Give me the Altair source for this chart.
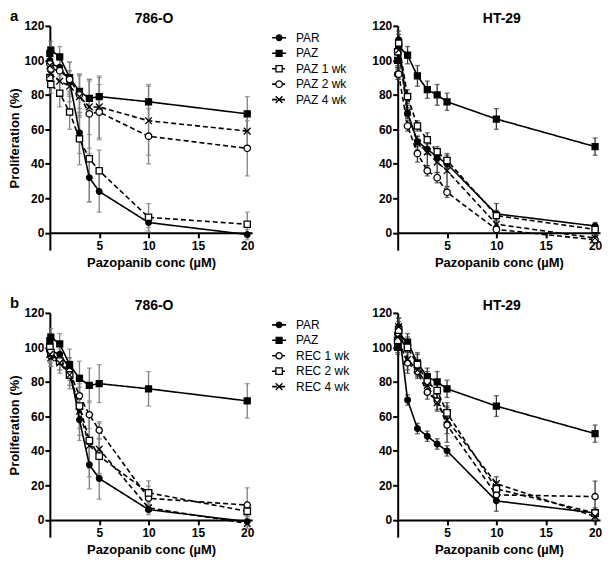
import altair as alt
import pandas as pd

# ---------------- data ----------------
conc = [0, 0.1, 1, 2, 3, 4, 5, 10, 20]

names_a = ["PAR", "PAZ", "PAZ 1 wk", "PAZ 2 wk", "PAZ 4 wk"]
names_b = ["PAR", "PAZ", "REC 1 wk", "REC 2 wk", "REC 4 wk"]

x_ticks = [5, 10, 15, 20]
y_ticks = [0, 20, 40, 60, 80, 100, 120]

# 786-O
par_786 = [100, 98, 96, 88, 58, 32, 24, 6, -1]
par_786_sd = [5, 4, 5, 6, 12, 14, 12, 3, 3]
paz_786 = [104, 106, 102, 90, 82, 78, 79, 76, 69]
paz_786_sd = [4, 5, 6, 9, 10, 10, 11, 10, 10]
paz1_786 = [90, 86, 81, 70, 54.5, 43, 36, 9, 5]
paz1_786_sd = [5, 5, 8, 10, 15, 25, 12, 8, 7]
paz2_786 = [98, 95, 94, 89, 80, 69, 70, 56, 49]
paz2_786_sd = [6, 6, 6, 10, 12, 20, 16, 16, 16]
paz4_786 = [97, 92, 88, 85, 79, 73, 73, 65, 59]
paz4_786_sd = [6, 6, 8, 9, 12, 16, 18, 20, 10]
rec1_786 = [98, 95, 93, 86, 72, 61, 52, 12.5, 8.6]
rec1_786_sd = [6, 6, 6, 8, 12, 8, 5, 7, 10]
rec2_786 = [100, 97, 92, 84, 66, 46, 37, 15.7, 5]
rec2_786_sd = [6, 6, 5, 6, 13, 16, 10, 7, 3]
rec4_786 = [96, 94, 91, 84, 63, 43, 41, 7, -2]
rec4_786_sd = [5, 5, 6, 8, 14, 18, 15, 3, 3]

# HT-29
par_ht = [100, 112, 69.5, 53, 48.5, 44, 40, 11, 4]
par_ht_sd = [3, 5, 3, 3, 3, 3, 3, 6, 2]
paz_ht = [100, 108, 103, 91, 83, 80, 76, 66, 50]
paz_ht_sd = [4, 5, 5, 6, 5, 6, 5, 6, 5]
paz1_ht = [105, 110, 79, 62, 54, 47, 42, 10, 2]
paz1_ht_sd = [4, 5, 4, 3, 4, 3, 4, 3, 2]
paz2_ht = [92, 92, 62, 46, 36, 32, 23.5, 2, -4]
paz2_ht_sd = [3, 3, 3, 5, 3, 3, 3, 2, 2]
paz4_ht = [100, 106, 70, 52, 47, 41, 36, 5, -3]
paz4_ht_sd = [4, 5, 4, 4, 8, 6, 9, 3, 2]
rec1_ht = [108, 104, 91, 86, 74, 69, 55, 14.5, 13.5]
rec1_ht_sd = [4, 5, 6, 4, 4, 5, 10, 3, 9]
rec2_ht = [104, 110, 100, 90, 80, 75, 62, 18, 4]
rec2_ht_sd = [4, 5, 6, 6, 6, 6, 6, 4, 3]
rec4_ht = [106, 112, 93, 87, 78, 68, 58, 21, 2]
rec4_ht_sd = [4, 5, 6, 4, 5, 5, 8, 4, 3]

data_a_786 = {"PAR": (par_786, par_786_sd), "PAZ": (paz_786, paz_786_sd),
              "PAZ 1 wk": (paz1_786, paz1_786_sd), "PAZ 2 wk": (paz2_786, paz2_786_sd),
              "PAZ 4 wk": (paz4_786, paz4_786_sd)}
data_a_ht = {"PAR": (par_ht, par_ht_sd), "PAZ": (paz_ht, paz_ht_sd),
             "PAZ 1 wk": (paz1_ht, paz1_ht_sd), "PAZ 2 wk": (paz2_ht, paz2_ht_sd),
             "PAZ 4 wk": (paz4_ht, paz4_ht_sd)}
data_b_786 = {"PAR": (par_786, par_786_sd), "PAZ": (paz_786, paz_786_sd),
              "REC 1 wk": (rec1_786, rec1_786_sd), "REC 2 wk": (rec2_786, rec2_786_sd),
              "REC 4 wk": (rec4_786, rec4_786_sd)}
data_b_ht = {"PAR": (par_ht, par_ht_sd), "PAZ": (paz_ht, paz_ht_sd),
             "REC 1 wk": (rec1_ht, rec1_ht_sd), "REC 2 wk": (rec2_ht, rec2_ht_sd),
             "REC 4 wk": (rec4_ht, rec4_ht_sd)}

# ---------------- styles ----------------
XPATH = "M-1,-1L1,1M-1,1L1,-1"
STYLE = {  # shape, fill, dash, size
    "PAR": ("circle", "black", [1, 0], 32),
    "PAZ": ("square", "black", [1, 0], 46),
    "PAZ 1 wk": ("square", "white", [5, 3], 40),
    "PAZ 2 wk": ("circle", "white", [5, 3], 38),
    "PAZ 4 wk": (XPATH, "white", [5, 3], 30),
    "REC 1 wk": ("circle", "white", [5, 3], 38),
    "REC 2 wk": ("square", "white", [5, 3], 40),
    "REC 4 wk": (XPATH, "white", [5, 3], 30),
}
FONT = "Liberation Sans"
W, H = 203, 225
LEG_W = 146
Y0_OFF = -(H * 10.0 / 130.0)


def enc_styles(names):
    return dict(
        shape=alt.Shape("series:N", scale=alt.Scale(domain=names, range=[STYLE[n][0] for n in names]), legend=None),
        fill=alt.Fill("series:N", scale=alt.Scale(domain=names, range=[STYLE[n][1] for n in names]), legend=None),
        size=alt.Size("series:N", scale=alt.Scale(domain=names, range=[STYLE[n][3] for n in names]), legend=None),
    )


def dash_enc(names):
    return alt.StrokeDash("series:N", scale=alt.Scale(domain=names, range=[STYLE[n][2] for n in names]), legend=None)


def panel(names, data, title, err_color, ytitle, tag):
    rows = []
    for n in names:
        m, s = data[n]
        for c, v, e in zip(conc, m, s):
            rows.append(dict(conc=c, value=v, lo=v - e, hi=v + e, series=n))
    df = pd.DataFrame(rows)
    xs = alt.Scale(domain=[0, 20.5], nice=False, zero=False)
    ys = alt.Scale(domain=[-10, 120], nice=False, zero=False)
    xaxis = alt.Axis(values=x_ticks, title="Pazopanib conc (µM)", offset=Y0_OFF,
                     labelPadding=3, titlePadding=5)
    if ytitle:
        yaxis = alt.Axis(values=y_ticks, title="Proliferation (%)", labelPadding=1, titlePadding=2)
    else:
        yaxis = alt.Axis(values=y_ticks, title=None, labelPadding=1)
    X = alt.X("conc:Q", scale=xs, axis=xaxis)
    base = alt.Chart(df)
    rule = base.mark_rule(color=err_color, strokeWidth=1.3).encode(
        x=X, y=alt.Y("lo:Q", scale=ys, axis=yaxis), y2="hi:Q")
    cap_lo = base.mark_tick(color=err_color, orient="horizontal", size=5, thickness=1.3).encode(
        x=X, y=alt.Y("lo:Q", scale=ys, axis=yaxis))
    cap_hi = base.mark_tick(color=err_color, orient="horizontal", size=5, thickness=1.3).encode(
        x=X, y=alt.Y("hi:Q", scale=ys, axis=yaxis))
    line = base.mark_line(color="black", strokeWidth=1.6).encode(
        x=X, y=alt.Y("value:Q", scale=ys, axis=yaxis), strokeDash=dash_enc(names))
    pts = base.mark_point(filled=True, stroke="black", strokeWidth=1.3, opacity=1).encode(
        x=X, y=alt.Y("value:Q", scale=ys, axis=yaxis), **enc_styles(names))
    ttl = alt.Chart(pd.DataFrame({"t": [title]})).mark_text(
        font=FONT, fontSize=14, fontWeight="bold", color="black", align="center", baseline="middle"
    ).encode(text="t:N", x=alt.value(W / 2 + 3), y=alt.value(-7))
    layers = [rule, cap_lo, cap_hi, line, pts, ttl]
    if tag:
        tg = alt.Chart(pd.DataFrame({"t": [tag]})).mark_text(
            font=FONT, fontSize=15, fontWeight="bold", color="black", align="left", baseline="top"
        ).encode(text="t:N", x=alt.value(-40), y=alt.value(-17))
        layers.append(tg)
    return alt.layer(*layers).properties(width=W, height=H)


def legend(names):
    ldf = pd.DataFrame({"series": names, "row": list(range(len(names)))})
    ly = alt.Y("row:Q", scale=alt.Scale(domain=[0, len(names) - 1], range=[12, 74], nice=False, zero=False),
               axis=None)
    base = alt.Chart(ldf)
    r = base.mark_rule(color="black", strokeWidth=1.6).encode(
        x=alt.value(20), x2=alt.value(34), y=ly, strokeDash=dash_enc(names))
    p = base.mark_point(filled=True, stroke="black", strokeWidth=1.3, opacity=1).encode(
        x=alt.value(27), y=ly, **enc_styles(names))
    t = base.mark_text(font=FONT, fontSize=12, color="black", align="left", baseline="middle").encode(
        x=alt.value(44), y=ly, text="series:N")
    return alt.layer(r, p, t).properties(width=LEG_W, height=H)


la = panel(names_a, data_a_786, "786-O", "#7f7f7f", True, "a")
ga = legend(names_a)
ra = panel(names_a, data_a_ht, "HT-29", "#333333", False, None)
lb = panel(names_b, data_b_786, "786-O", "#7f7f7f", True, "b")
gb = legend(names_b)
rb = panel(names_b, data_b_ht, "HT-29", "#333333", False, None)

chart = alt.concat(la, ga, ra, lb, gb, rb, columns=3, bounds="flush", align="each",
                   spacing={"row": 63, "column": 0}).resolve_scale(
    shape="independent", fill="independent", size="independent", strokeDash="independent",
    y="independent"
).properties(
    padding=0
).configure_view(stroke=None).configure_axis(
    domainColor="black", domainWidth=2, tickColor="black", tickWidth=2, tickSize=5,
    labelFont=FONT, labelFontWeight="bold", labelFontSize=12, labelColor="black",
    titleFont=FONT, titleFontWeight="bold", titleFontSize=13, titleColor="black", grid=False
)

chart.save("out.html", embed_options={"renderer": "svg", "actions": False})
